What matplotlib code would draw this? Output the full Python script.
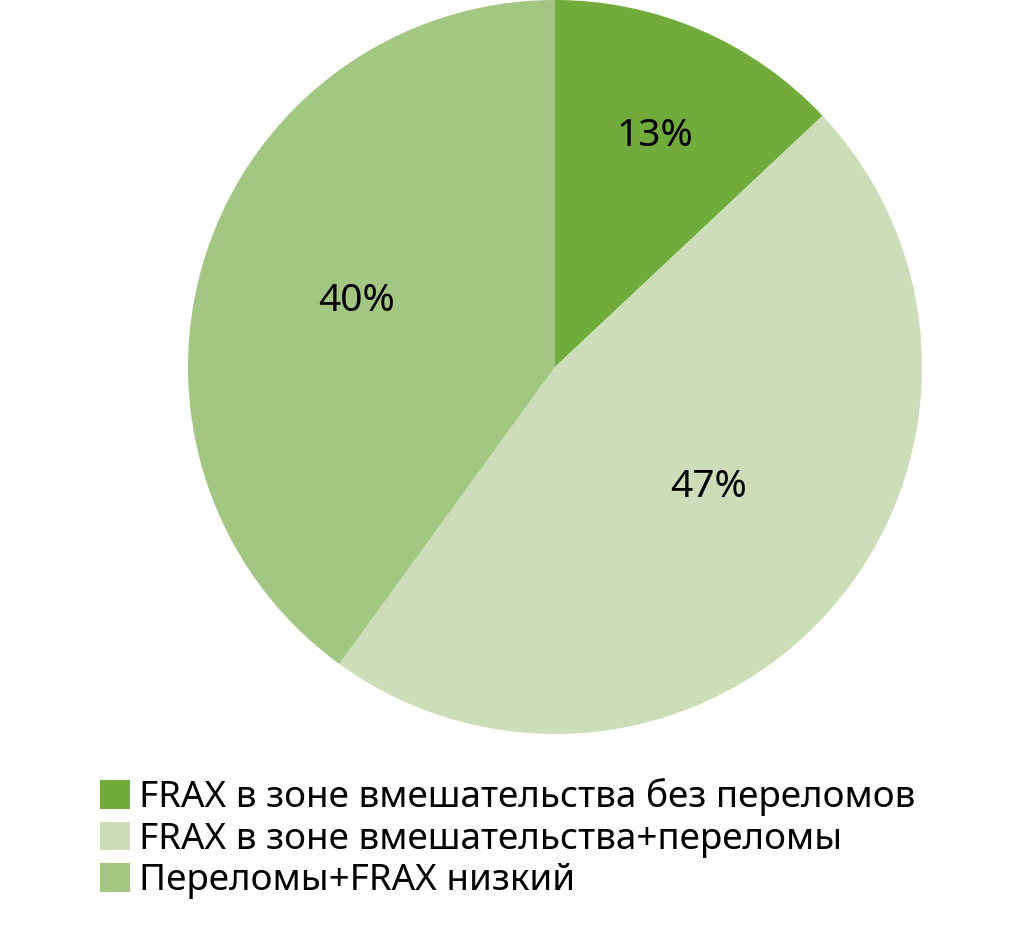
import matplotlib
matplotlib.use("Agg")
import matplotlib.pyplot as plt
import numpy as np
from matplotlib.patches import Patch

plt.rcParams['font.family'] = ['Noto Sans', 'DejaVu Sans']

categories = [
    "FRAX в зоне вмешательства без переломов",
    "FRAX в зоне вмешательства+переломы",
    "Переломы+FRAX низкий",
]
shares = [13, 47, 40]
colors = ["#70ab3b", "#cdddb9", "#a3c683"]

# radial distance and angular nudge (degrees) for each percentage label
label_radii = [0.685, 0.53, 0.57]
label_nudge = [0.0, 3.4, -0.5]

fig = plt.figure(figsize=(10.33, 9.30), dpi=100)
ax = fig.add_axes([188 / 1033, (930 - 734) / 930, 734 / 1033, 734 / 930])

wedges, _ = ax.pie(shares, colors=colors, startangle=90, counterclock=False,
                   radius=1.0, wedgeprops=dict(linewidth=0))
ax.set_xlim(-1, 1)
ax.set_ylim(-1, 1)
ax.set_aspect('equal')
ax.axis('off')

for w, v, r, d in zip(wedges, shares, label_radii, label_nudge):
    ang = np.deg2rad((w.theta1 + w.theta2) / 2 + d)
    ax.text(r * np.cos(ang), r * np.sin(ang), f"{v}%", ha='center', va='center',
            fontsize=28, color='black')

handles = [Patch(facecolor=c, edgecolor='none') for c in colors]
fig.legend(handles, categories, loc='upper left',
           bbox_to_anchor=(100 / 1033, 1 - 778 / 930), frameon=False,
           fontsize=26.5, handlelength=0.82, handleheight=0.82, handletextpad=0.25,
           labelspacing=0.15, borderaxespad=0, borderpad=0)

fig.savefig("out.png", dpi=100)
